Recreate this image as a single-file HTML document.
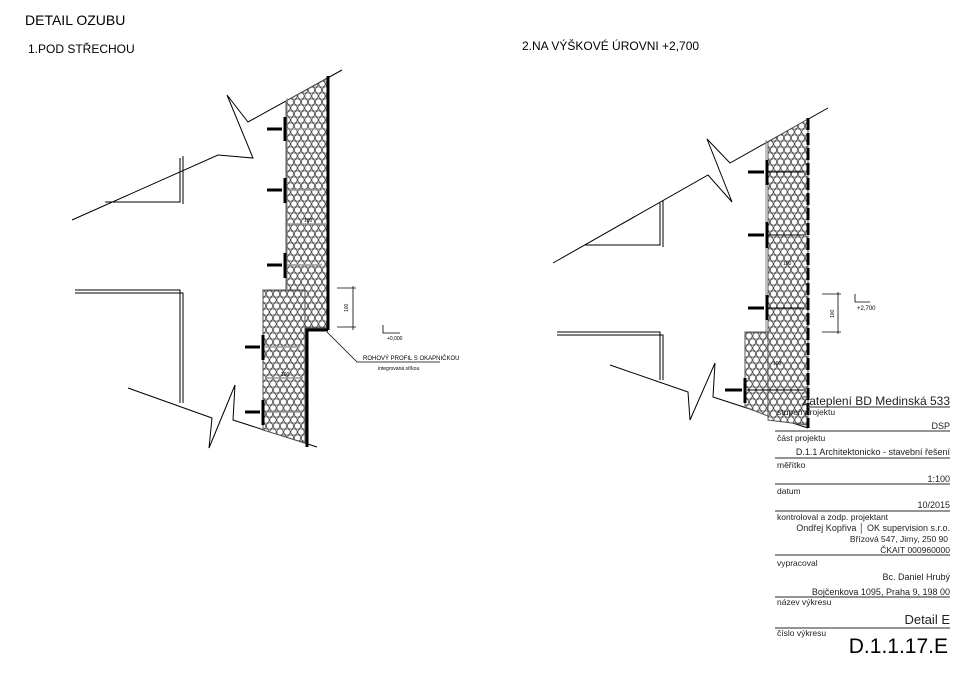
<!DOCTYPE html>
<html><head><meta charset="utf-8"><style>
body{margin:0;background:#fff;width:960px;height:678px;overflow:hidden;font-family:"Liberation Sans",sans-serif}
svg{position:absolute;left:0;top:0}
</style></head><body>
<svg width="960" height="678" viewBox="0 0 960 678" xmlns="http://www.w3.org/2000/svg">
<defs>
<pattern id="hx" width="7" height="12" patternUnits="userSpaceOnUse">
<rect width="7" height="12" fill="#fff"/>
<g fill="none" stroke="#333" stroke-width="0.7">
<circle cx="0" cy="0" r="3.2"/><circle cx="7" cy="0" r="3.2"/>
<circle cx="3.5" cy="6" r="3.2"/>
<circle cx="0" cy="12" r="3.2"/><circle cx="7" cy="12" r="3.2"/>
</g>
</pattern>
</defs>
<g font-family="Liberation Sans, sans-serif" fill="#000">
<text x="25" y="25" font-size="14">DETAIL OZUBU</text>
<text x="28" y="53" font-size="12">1.POD STŘECHOU</text>
<text x="522" y="50" font-size="12">2.NA VÝŠKOVÉ ÚROVNI +2,700</text>
</g>
<!-- LEFT DRAWING -->
<g stroke="#000" fill="none" stroke-width="1">
<polyline points="72,220 218,155 253,158 227,95 248,122 342,70"/>
<polyline points="105,202 180,202 180,158"/><polyline points="183,204 183,156"/>
<polyline points="75,290 180,290 180,403"/><polyline points="75,293 183,293 183,403"/>
<polyline points="128,388 212,418 209,448 235,385 233,420 317,447"/>
</g>
<polygon points="286,101 328,78 328,328 305,328 305,290 286,290" fill="url(#hx)" stroke="#555" stroke-width="1"/>
<polygon points="263,290 305,290 305,443 263,430" fill="url(#hx)" stroke="#555" stroke-width="1"/>
<g stroke="#000">
<line x1="328" y1="76" x2="328" y2="330" stroke-width="3"/>
<polyline points="328,330 307,330 307,447" fill="none" stroke-width="3"/>
<line x1="287" y1="98" x2="287" y2="290" stroke="#888" stroke-width="1"/>
<g stroke-width="3"><line x1="267" y1="129" x2="282" y2="129"/><line x1="267" y1="190" x2="282" y2="190"/><line x1="267" y1="265" x2="282" y2="265"/><line x1="245" y1="347" x2="260" y2="347"/><line x1="245" y1="412" x2="260" y2="412"/></g>
<g stroke-width="3"><line x1="285" y1="117" x2="285" y2="141"/><line x1="285" y1="178" x2="285" y2="203"/><line x1="285" y1="253" x2="285" y2="278"/><line x1="263" y1="335" x2="263" y2="360"/><line x1="263" y1="400" x2="263" y2="425"/></g>
<g stroke="#999" stroke-width="1.5"><line x1="287" y1="129" x2="322" y2="129"/><line x1="287" y1="190" x2="322" y2="190"/><line x1="287" y1="265" x2="322" y2="265"/><line x1="265" y1="347" x2="300" y2="347"/><line x1="265" y1="412" x2="300" y2="412"/><line x1="287" y1="224" x2="326" y2="224"/><line x1="265" y1="378" x2="303" y2="378"/></g>
<g stroke-width="0.8" fill="none"><line x1="337" y1="288" x2="356" y2="288"/><line x1="337" y1="327" x2="356" y2="327"/><line x1="353" y1="286" x2="353" y2="330"/>
<polyline points="383,325 383,333 400,333"/>
<polyline points="327,332 357,362 440,362"/></g>
</g>
<g font-family="Liberation Sans, sans-serif" fill="#000">
<text x="348" y="312" font-size="5" transform="rotate(-90 348 312)">100</text>
<text x="387" y="340" font-size="5">+0,000</text>
<text x="363" y="360" font-size="6">ROHOVÝ PROFIL S OKAPNIČKOU</text>
<text x="378" y="370" font-size="5">integrovaná síťkou</text>
<text x="304" y="222" font-size="5">100</text><text x="281" y="376" font-size="5">100</text>
</g>
<!-- RIGHT DRAWING -->
<g stroke="#000" fill="none" stroke-width="1">
<polyline points="553,263 708,175 732,202 707,139 730,163 828,108"/>
<polyline points="585,245 660,245 660,203"/><polyline points="663,247 663,201"/>
<polyline points="557,332 660,332 660,380"/><polyline points="557,335 663,335 663,380"/>
<polyline points="610,365 688,392 690,420 715,363 713,397 808,428"/>
</g>
<polygon points="768,142 808,119 808,425 768,420" fill="url(#hx)" stroke="#555" stroke-width="1"/>
<polygon points="745,332 768,332 768,416 745,407" fill="url(#hx)" stroke="#555" stroke-width="1"/>
<g stroke="#000">
<line x1="808" y1="118" x2="808" y2="428" stroke-width="3" stroke-dasharray="12,3"/>
<line x1="766" y1="140" x2="766" y2="332" stroke="#888"/>
<g stroke-width="3"><line x1="748" y1="172" x2="764" y2="172"/><line x1="748" y1="235" x2="764" y2="235"/><line x1="748" y1="308" x2="764" y2="308"/><line x1="725" y1="390" x2="742" y2="390"/></g>
<g stroke-width="3"><line x1="767" y1="160" x2="767" y2="185"/><line x1="767" y1="222" x2="767" y2="248"/><line x1="767" y1="295" x2="767" y2="320"/><line x1="745" y1="378" x2="745" y2="403"/></g>
<g stroke-width="1"><line x1="768" y1="172" x2="804" y2="172"/><line x1="768" y1="235" x2="804" y2="235"/><line x1="768" y1="308" x2="804" y2="308"/><line x1="747" y1="390" x2="804" y2="390"/></g>
<g stroke-width="0.8" fill="none"><line x1="822" y1="294" x2="841" y2="294"/><line x1="822" y1="332" x2="841" y2="332"/><line x1="838" y1="292" x2="838" y2="334"/><polyline points="855,294 855,302 870,302"/></g>
</g>
<g font-family="Liberation Sans, sans-serif" fill="#000">
<text x="834" y="318" font-size="5" transform="rotate(-90 834 318)">100</text>
<text x="857" y="310" font-size="6">+2,700</text>
<text x="783" y="265" font-size="5">100</text><text x="773" y="365" font-size="5">100</text>
</g>
<!-- TITLE BLOCK -->
<g stroke="#555" stroke-width="1.2">
<line x1="808" y1="407" x2="950" y2="407"/><line x1="775" y1="431" x2="950" y2="431"/><line x1="775" y1="458" x2="950" y2="458"/><line x1="775" y1="484" x2="950" y2="484"/><line x1="775" y1="511" x2="950" y2="511"/><line x1="775" y1="555" x2="950" y2="555"/><line x1="775" y1="597" x2="950" y2="597"/><line x1="775" y1="628" x2="950" y2="628"/>
</g>
<g font-family="Liberation Sans, sans-serif" fill="#222">
<text x="950" y="405" font-size="12" text-anchor="end">Zateplení BD Medinská 533</text>
<text x="777" y="415" font-size="8.5">stupeň projektu</text>
<text x="950" y="429" font-size="9" text-anchor="end">DSP</text>
<text x="777" y="441" font-size="8.5">část projektu</text>
<text x="950" y="455" font-size="9" text-anchor="end">D.1.1 Architektonicko - stavební řešení</text>
<text x="777" y="468" font-size="8.5">měřítko</text>
<text x="950" y="482" font-size="9" text-anchor="end">1:100</text>
<text x="777" y="494" font-size="8.5">datum</text>
<text x="950" y="508" font-size="9" text-anchor="end">10/2015</text>
<text x="777" y="520" font-size="8.5">kontroloval a zodp. projektant</text>
<text x="950" y="531" font-size="9" text-anchor="end">Ondřej Kopřiva │ OK supervision s.r.o.</text>
<text x="948" y="542" font-size="8.5" text-anchor="end">Břízová 547, Jirny, 250 90</text>
<text x="950" y="553" font-size="8.5" text-anchor="end">ČKAIT 000960000</text>
<text x="777" y="566" font-size="8.5">vypracoval</text>
<text x="950" y="580" font-size="9" text-anchor="end">Bc. Daniel Hrubý</text>
<text x="950" y="595" font-size="9" text-anchor="end">Bojčenkova 1095, Praha 9, 198 00</text>
<text x="777" y="605" font-size="8.5">název výkresu</text>
<text x="950" y="624" font-size="13" text-anchor="end">Detail E</text>
<text x="777" y="636" font-size="8.5">číslo výkresu</text>
<text x="948" y="653" font-size="21" fill="#000" text-anchor="end">D.1.1.17.E</text>
</g>
</svg>
</body></html>
